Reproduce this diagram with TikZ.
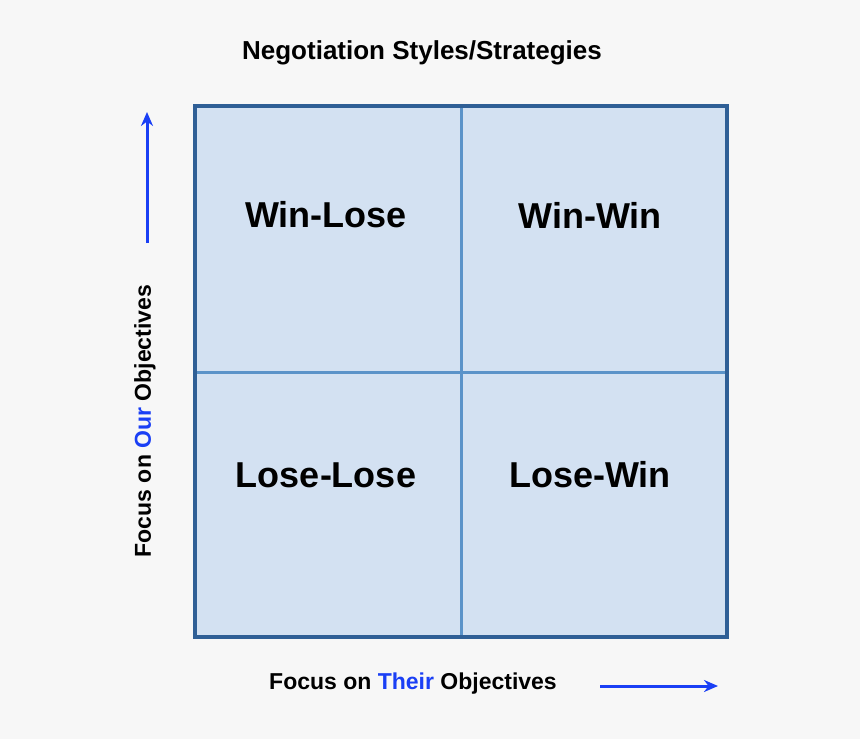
\documentclass[tikz,border=0pt]{standalone}
\usepackage{fontspec}
\setmainfont{Liberation Sans}
\usetikzlibrary{arrows.meta}
\definecolor{bg}{HTML}{F7F7F7}
\definecolor{cellfill}{HTML}{D3E1F2}
\definecolor{outer}{HTML}{2F5F96}
\definecolor{inner}{HTML}{5B93C9}
\definecolor{accent}{HTML}{1A3FF5}
\tikzset{
  celltext/.style={font=\fontsize{36}{40}\selectfont\bfseries},
  axistext/.style={font=\fontsize{23}{26}\selectfont\bfseries},
  axisarrow/.style={draw=accent, line width=3pt, -{Stealth[length=14pt,width=12pt]}}
}
\begin{document}
\begin{tikzpicture}[x=1pt,y=-1pt]
\fill[bg] (0,0) rectangle (860,739);
\useasboundingbox (0,0) rectangle (860,739);
\fill[cellfill] (195,106) rectangle (727,637);
\draw[inner, line width=3pt] (461,106) -- (461,637) (195,372) -- (727,372);
\draw[outer, line width=3.5pt] (195,106) rectangle (727,637);
\node[font=\fontsize{26}{30}\selectfont\bfseries] (title) at (422,53) {Negotiation Styles/Strategies};
\node[celltext] (wl) at (326,215) {Win-Lose};
\node[celltext] (ww) at (590,215) {Win-Win};
\node[celltext] (ll) at (326,475) {Lose-Lose};
\node[celltext] (lw) at (590,475) {Lose-Win};
\node[axistext] (xlab) at (413,684) {Focus on \textcolor{accent}{Their} Objectives};
\coordinate (xa) at (600,686);
\coordinate (xb) at (718,686);
\draw[axisarrow] (xa) -- (xb);
\node[axistext, rotate=90] (ylab) at (145,421) {Focus on \textcolor{accent}{Our} Objectives};
\coordinate (ya) at (147,243);
\coordinate (yb) at (147,112);
\draw[axisarrow] (ya) -- (yb);
\end{tikzpicture}
\end{document}
